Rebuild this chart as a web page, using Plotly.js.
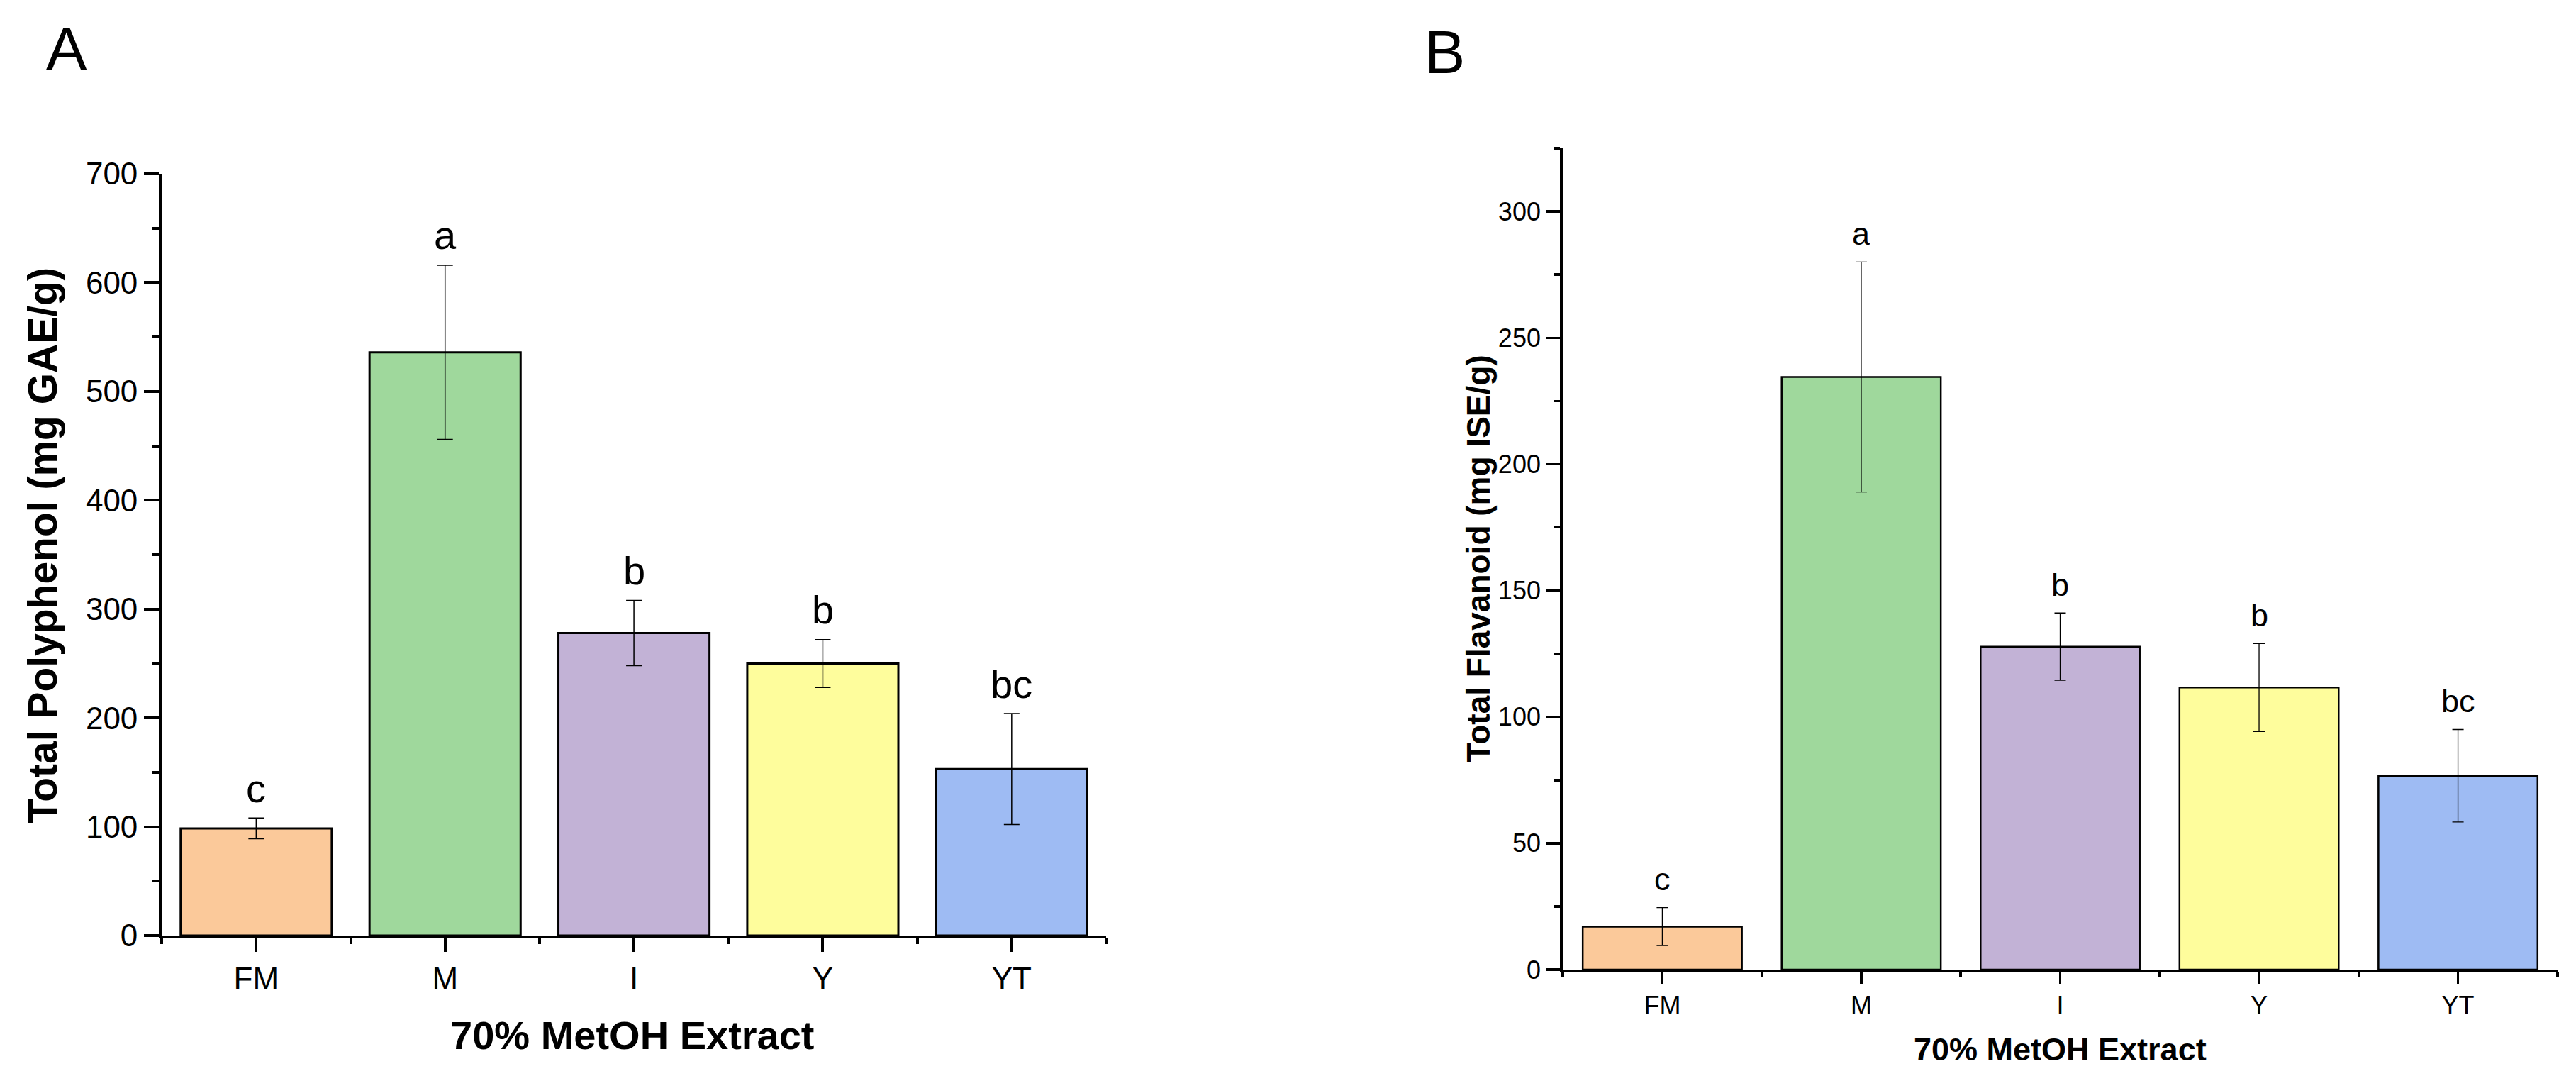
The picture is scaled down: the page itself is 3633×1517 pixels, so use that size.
<!DOCTYPE html>
<html>
<head>
<meta charset="utf-8">
<script src="https://cdn.plot.ly/plotly-3.0.1.min.js"></script>
<style>html,body{margin:0;padding:0;background:#fff}</style>
</head>
<body>
<div id="myDiv" style="width:3633px;height:1517px"></div>
<script>
let categories = ['FM', 'M', 'I', 'Y', 'YT'];
let polyphenol = [98.5, 536, 278, 250, 153];
let polyphenolErr = [9.5, 80, 30, 22, 51];
let polyphenolLetters = ['c', 'a', 'b', 'b', 'bc'];
let flavanoid = [17, 234.5, 127.8, 111.6, 76.7];
let flavanoidErr = [7.5, 45.5, 13.3, 17.4, 18.3];
let flavanoidLetters = ['c', 'a', 'b', 'b', 'bc'];
let barColors = ['#fbc99a', '#9fd89c', '#c2b2d6', '#fefd9c', '#9ebbf3'];

let pos = categories.map((c, i) => i);
let FONT = 'Liberation Sans, Arial, sans-serif';

let trace1 = {
  x: pos,
  y: polyphenol,
  type: 'bar',
  width: 0.8,
  marker: {color: barColors, line: {color: 'black', width: 3}},
  error_y: {type: 'data', array: polyphenolErr, visible: true, color: 'black', thickness: 1.5, width: 11},
  xaxis: 'x',
  yaxis: 'y'
};
let trace2 = {
  x: pos,
  y: flavanoid,
  type: 'bar',
  width: 0.8,
  marker: {color: barColors, line: {color: 'black', width: 2.5}},
  error_y: {type: 'data', array: flavanoidErr, visible: true, color: 'black', thickness: 1.3, width: 8},
  xaxis: 'x2',
  yaxis: 'y2'
};

function xAxis(domain, anchor, size, len, minorLen, tw) {
  return {
    domain: domain, anchor: anchor, range: [-0.5, 4.5],
    tickvals: pos, ticktext: categories,
    ticks: 'outside', ticklen: len, tickwidth: tw, tickcolor: 'black',
    showline: true, linewidth: 4, linecolor: 'black',
    showgrid: false, zeroline: false,
    tickfont: {family: FONT, size: size, color: 'black'},
    minor: {tick0: 0.5, dtick: 1, ticks: 'outside', ticklen: minorLen, tickwidth: tw, tickcolor: 'black', showgrid: false}
  };
}
function yAxis(domain, anchor, top, step, size, len, minorLen, tw) {
  return {
    domain: domain, anchor: anchor, range: [0, top],
    tick0: 0, dtick: step,
    ticks: 'outside', ticklen: len, tickwidth: tw, tickcolor: 'black',
    showline: true, linewidth: 4, linecolor: 'black',
    showgrid: false, zeroline: false,
    tickfont: {family: FONT, size: size, color: 'black'},
    minor: {dtick: step / 2, ticks: 'outside', ticklen: minorLen, tickwidth: tw, tickcolor: 'black', showgrid: false}
  };
}

let annotations = [];
categories.forEach((c, i) => {
  annotations.push({xref: 'x', yref: 'y', x: pos[i], y: polyphenol[i] + polyphenolErr[i],
    text: polyphenolLetters[i], showarrow: false, yanchor: 'middle', yshift: 42,
    font: {family: FONT, size: 56, color: 'black'}});
  annotations.push({xref: 'x2', yref: 'y2', x: pos[i], y: flavanoid[i] + flavanoidErr[i],
    text: flavanoidLetters[i], showarrow: false, yanchor: 'middle', yshift: 40,
    font: {family: FONT, size: 45, color: 'black'}});
});
annotations.push(
  {xref: 'paper', yref: 'paper', x: 0.0259, y: 0.9552, text: 'A', showarrow: false,
   xanchor: 'center', yanchor: 'middle', font: {family: FONT, size: 86, color: 'black'}},
  {xref: 'paper', yref: 'paper', x: 0.5607, y: 0.9522, text: 'B', showarrow: false,
   xanchor: 'center', yanchor: 'middle', font: {family: FONT, size: 86, color: 'black'}},
  {xref: 'paper', yref: 'paper', x: 0.2455, y: 0.0382, text: '<b>70% MetOH Extract</b>', showarrow: false,
   xanchor: 'center', yanchor: 'middle', font: {family: FONT, size: 56, color: 'black'}},
  {xref: 'paper', yref: 'paper', x: 0.7998, y: 0.0247, text: '<b>70% MetOH Extract</b>', showarrow: false,
   xanchor: 'center', yanchor: 'middle', font: {family: FONT, size: 45, color: 'black'}},
  {xref: 'paper', yref: 'paper', x: 0.0165, y: 0.4928, text: '<b>Total Polyphenol (mg GAE/g)</b>', showarrow: false,
   textangle: -90, xanchor: 'center', yanchor: 'middle', font: {family: FONT, size: 57, color: 'black'}},
  {xref: 'paper', yref: 'paper', x: 0.5739, y: 0.4809, text: '<b>Total Flavanoid (mg ISE/g)</b>', showarrow: false,
   textangle: -90, xanchor: 'center', yanchor: 'middle', font: {family: FONT, size: 46, color: 'black'}}
);

let layout = {
  width: 3633,
  height: 1517,
  margin: {l: 0, r: 0, t: 0, b: 0},
  paper_bgcolor: 'white',
  plot_bgcolor: 'white',
  showlegend: false,
  xaxis: xAxis([0.0628, 0.4294], 'y', 44, 19, 8, 4),
  yaxis: yAxis([0.1305, 0.8385], 'x', 700, 100, 44, 21, 10, 4),
  xaxis2: xAxis([0.6067, 0.9928], 'y2', 36, 16, 7, 3.5),
  yaxis2: yAxis([0.0989, 0.8622], 'x2', 325, 50, 36, 20, 9, 3.5),
  annotations: annotations
};

let data = [trace1, trace2];
Plotly.newPlot('myDiv', data, layout, {staticPlot: true});
</script>
</body>
</html>
